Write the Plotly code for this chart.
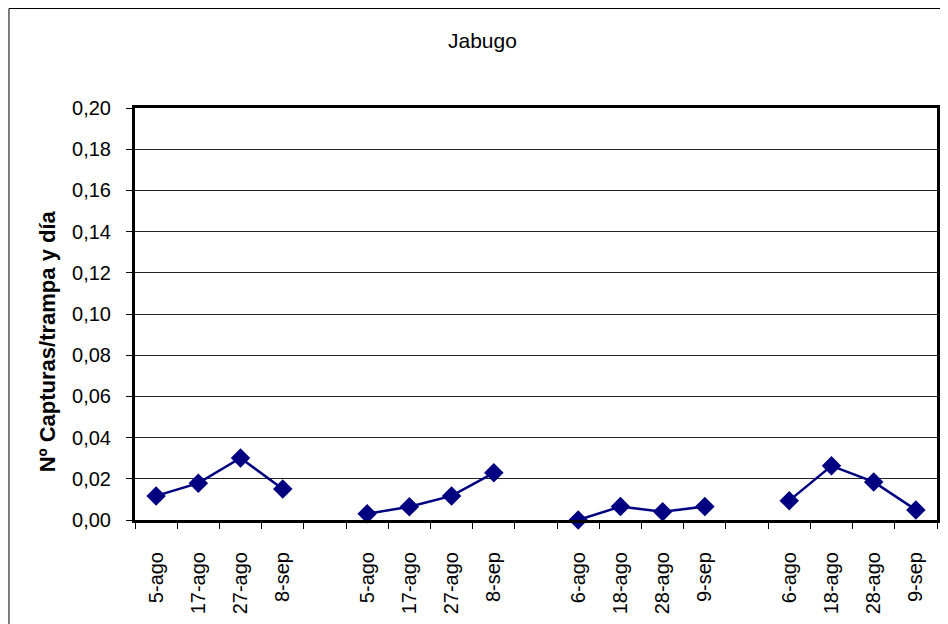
import plotly.graph_objects as go

# --- data ---
categories = ["5-ago", "17-ago", "27-ago", "8-sep", "",
              "5-ago", "17-ago", "27-ago", "8-sep", "",
              "6-ago", "18-ago", "28-ago", "9-sep", "",
              "6-ago", "18-ago", "28-ago", "9-sep"]
values = [0.0117, 0.0179, 0.0301, 0.0150, None,
          0.0030, 0.0064, 0.0117, 0.0229, None,
          0.0000, 0.0065, 0.0040, 0.0065, None,
          0.0094, 0.0263, 0.0185, 0.0049]
y_ticks = [0.00, 0.02, 0.04, 0.06, 0.08, 0.10, 0.12, 0.14, 0.16, 0.18, 0.20]
y_ticklabels = [f"{v:.2f}".replace(".", ",") for v in y_ticks]
title_text = "Jabugo"
y_title = "Nº Capturas/trampa y día"

# page has an 8px body margin; work in screen pixels and convert
OFF = 8
W, H = 940, 616
L, R, T, B = 127, 8, 100, 104
pw, ph = W - L - R, H - T - B

def px_x(p):  # screen px -> paper x
    return (p - OFF - L) / pw

def px_y(p):  # screen px -> paper y
    return (H - B - (p - OFF)) / ph

xs = list(range(len(categories)))
navy = "#000080"
font = "Liberation Sans, Arial, sans-serif"

fig = go.Figure()
fig.add_trace(go.Scatter(
    x=xs, y=values, mode="lines+markers",
    line=dict(color=navy, width=2.5),
    marker=dict(symbol="diamond", size=15, color=navy),
    connectgaps=False, showlegend=False, cliponaxis=False,
))

fig.update_layout(
    width=W, height=H,
    margin=dict(l=L, r=R, t=T, b=B, pad=0),
    paper_bgcolor="white", plot_bgcolor="white",
    font=dict(family=font, size=20, color="black"),
    xaxis=dict(
        range=[-0.5, len(categories) - 0.5],
        tickmode="array", tickvals=[i for i, c in enumerate(categories) if c],
        ticktext=[c for c in categories if c],
        tickangle=-90, ticks="outside", ticklen=6, tickcolor="rgba(0,0,0,0)",
        ticklabelstandoff=15,
        minor=dict(ticks="outside", ticklen=6, tickcolor="black", tickwidth=1,
                   tickmode="linear", tick0=-0.5, dtick=1, showgrid=False),
        showgrid=False, zeroline=False,
        showline=True, linecolor="black", linewidth=3, mirror=True,
        tickfont=dict(size=20, family=font),
        fixedrange=True,
    ),
    yaxis=dict(
        range=[0, 0.20], tickmode="array", tickvals=y_ticks, ticktext=y_ticklabels,
        ticks="outside", ticklen=6, tickcolor="black", tickwidth=1,
        ticklabelstandoff=11,
        showgrid=True, gridcolor="#222", gridwidth=1, zeroline=False,
        showline=True, linecolor="black", linewidth=3, mirror=True,
        tickfont=dict(size=20, family=font),
        fixedrange=True,
    ),
)

fig.add_annotation(
    text=title_text, xref="paper", yref="paper",
    x=px_x(484), y=px_y(41), showarrow=False,
    font=dict(size=21, family=font, color="black"),
    xanchor="center", yanchor="middle",
)
fig.add_annotation(
    text=f"<b>{y_title}</b>", xref="paper", yref="paper",
    x=px_x(47), y=px_y(341), showarrow=False, textangle=-90,
    font=dict(size=22, family=font, color="black"),
    xanchor="center", yanchor="middle",
)
fig.add_shape(
    type="rect", xref="paper", yref="paper",
    x0=px_x(8.5), x1=px_x(990), y0=px_y(8.5), y1=px_y(700),
    line=dict(color="black", width=1), fillcolor="rgba(0,0,0,0)", layer="below",
)

fig.write_html("out.html")
